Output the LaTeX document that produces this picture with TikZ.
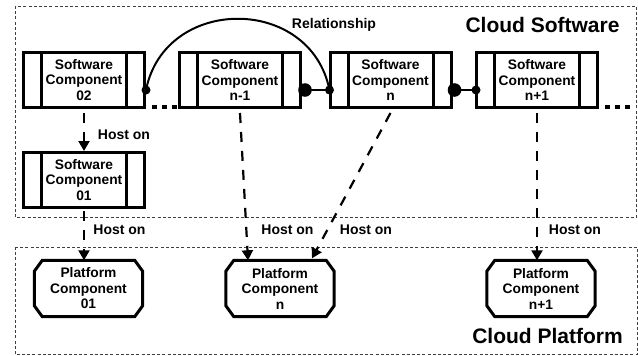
\documentclass[tikz,border=0pt]{standalone}
\usepackage{fontspec}
\setmainfont{Liberation Sans}
\usetikzlibrary{arrows.meta,calc}
\begin{document}
\begin{tikzpicture}[x=1pt,y=-1pt,
  boxline/.style={line width=3pt},
  swbox/.style={draw,boxline,rectangle,minimum width=121pt,minimum height=55pt,inner sep=0pt,align=center,
    font=\fontsize{13.8}{15.5}\selectfont\bfseries,
    path picture={\draw[boxline] ([xshift=18pt]path picture bounding box.north west) -- ([xshift=18pt]path picture bounding box.south west);
                  \draw[boxline] ([xshift=-18pt]path picture bounding box.north east) -- ([xshift=-18pt]path picture bounding box.south east);}},
  pfbox/.style={rectangle,minimum width=108pt,minimum height=56pt,inner sep=0pt,align=center,
    font=\fontsize{13.8}{15.5}\selectfont\bfseries},
  region/.style={draw=black!75,line width=0.9pt,dash pattern=on 3pt off 2.2pt},
  hosting/.style={line width=2.2pt,dash pattern=on 10pt off 9pt,-{Triangle[length=10pt,width=11pt]}},
  lbl/.style={font=\fontsize{14}{16}\selectfont\bfseries,inner sep=0pt},
  big/.style={font=\fontsize{21}{24}\selectfont\bfseries,inner sep=0pt},
  rel/.style={line width=2pt},
  dotdot/.style={line width=4.5pt,dash pattern=on 0pt off 6pt on 5pt off 5pt on 5pt off 5pt on 5pt off 40pt}
]
\useasboundingbox (0,0) rectangle (638,356);
% regions
\draw[region] (15,6) rectangle (636.5,217);
\draw[region] (15,247) rectangle (637,354.5);
\node[big] (cs) at (542.5,25) {Cloud Software};
\node[big] (cp) at (547.5,336) {Cloud Platform};

% software components
\node[swbox] (sc02) at (84,80) {Software\\Component\\02};
\node[swbox] (scm) at (240,80) {Software\\Component\\n-1};
\node[swbox] (scn) at (390.5,80) {Software\\Component\\n};
\node[swbox] (scp) at (537,80) {Software\\Component\\n+1};
\node[swbox] (sc01) at (84,180) {Software\\Component\\01};

% platform components
\node[pfbox] (p01) at (88.5,288.5) {Platform\\Component\\01};
\node[pfbox] (pn) at (280,288.5) {Platform\\Component\\n};
\node[pfbox] (pp) at (541,288.5) {Platform\\Component\\n+1};
\foreach \n in {p01,pn,pp}{
  \draw[boxline,line join=miter] ([xshift=8pt]\n.north west) -- ([xshift=-8pt]\n.north east) -- ([yshift=-11pt]\n.north east)
    -- ([yshift=11pt]\n.south east) -- ([xshift=-8pt]\n.south east) -- ([xshift=8pt]\n.south west)
    -- ([yshift=11pt]\n.south west) -- ([yshift=-11pt]\n.north west) -- cycle;
}

% relationship arc and links
\coordinate (a1) at ([yshift=-10pt]sc02.east);
\coordinate (a2) at ([yshift=-10pt,xshift=1pt]scn.west);
\draw[rel] (a1) .. controls +(19,-95) and +(-19,-95) .. (a2);
\node[lbl] (relL) at (334,25) {Relationship};
\coordinate (b1) at ([yshift=-10pt,xshift=3pt]scm.east);
\coordinate (b2) at ([yshift=-10pt,xshift=2pt]scn.east);
\coordinate (c2) at ([yshift=-10pt,xshift=1pt]scp.west);
\draw[rel] (b1) -- (a2);
\draw[rel] (b2) -- (c2);
\fill (a1) circle (4.5pt);
\fill (a2) circle (4.5pt);
\fill (c2) circle (4.5pt);
\fill (b1) circle (6.8pt);
\fill (b2) circle (6.8pt);

% ellipses
\coordinate (e1) at (632,107);
\draw[dotdot] ([yshift=2pt]sc02.south east) -- ([yshift=2pt]scm.south west);
\draw[dotdot] ([yshift=2pt]scp.south east) -- (e1);

% host on
\coordinate (t1) at ([xshift=-32pt]pn.north);
\coordinate (t2) at ([xshift=32pt,yshift=2pt]pn.north);
\draw[hosting] ([yshift=-4pt]sc02.south) -- (sc01.north);
\draw[hosting] ([yshift=-2pt]sc01.south) -- (sc01.south |- p01.north);
\draw[hosting] ([yshift=-4pt]scm.south) -- (t1);
\draw[hosting] ([yshift=-4pt]scn.south) -- (t2);
\draw[hosting] ([yshift=-4pt]scp.south) -- (scp.south |- pp.north);
\node[lbl] (h1) at (124,134.5) {Host on};
\node[lbl] (h2) at (119.5,230) {Host on};
\node[lbl] (h3) at (287.5,230) {Host on};
\node[lbl] (h4) at (366,230) {Host on};
\node[lbl] (h5) at (575,230) {Host on};
\end{tikzpicture}
\end{document}
